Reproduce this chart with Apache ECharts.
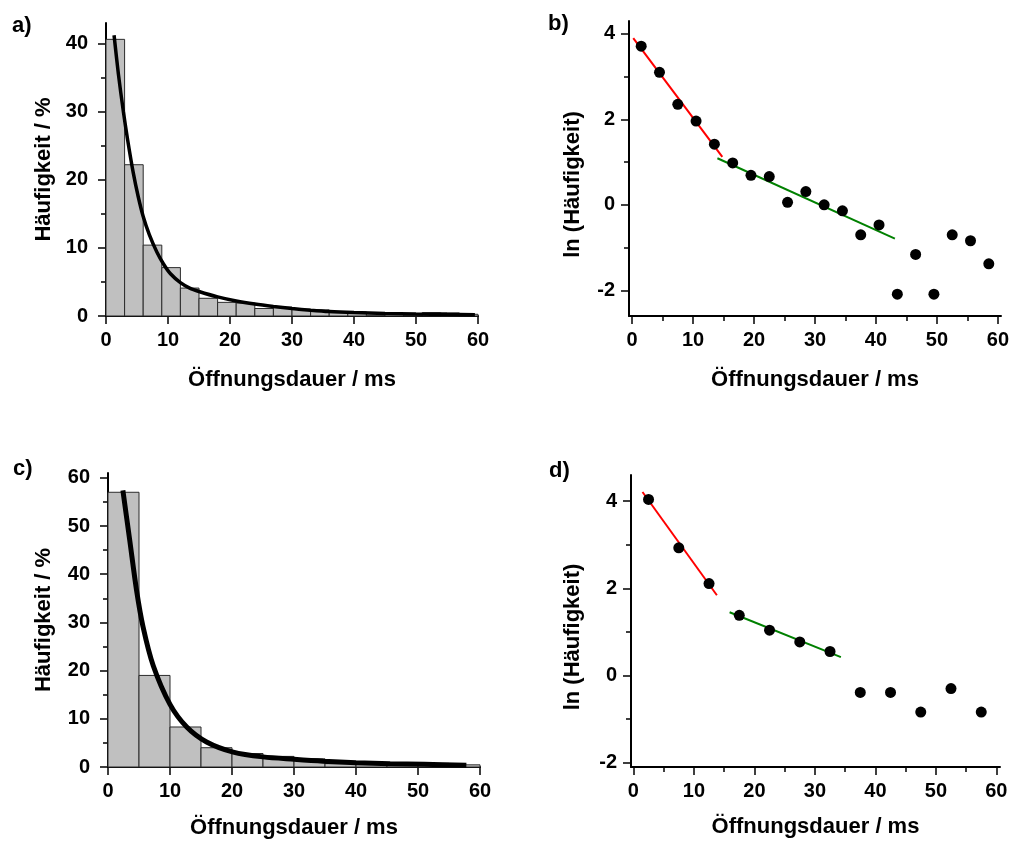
<!DOCTYPE html>
<html>
<head>
<meta charset="utf-8">
<title>Öffnungsdauer-Verteilungen</title>
<script src="https://cdn.jsdelivr.net/npm/echarts@6/dist/echarts.min.js"></script>
<style>
  html, body { margin: 0; padding: 0; background: #ffffff; }
  #chart { width: 1014px; height: 845px; }
</style>
</head>
<body>
<div id="chart"></div>
<script>
// ---- a) Histogramm, 3-ms-Klassen ----
var binCentersA = [1.5, 4.5, 7.5, 10.5, 13.5, 16.5, 19.5, 22.5, 25.5, 28.5,
                   31.5, 34.5, 37.5, 40.5, 43.5, 46.5, 49.5, 52.5, 55.5, 58.5];
var binWidthA = 3;
var countsA = [40.6, 22.2, 10.4, 7.1, 4.1, 2.6, 2.0, 1.9, 1.1, 1.3,
               1.0, 0.9, 0.5, 0.6, 0.12, 0.3, 0.12, 0.5, 0.45, 0.25];
// Anpassungskurve a)
var fitAx = [1.3, 2.0, 2.8, 3.5, 4.4, 5.2, 6.0, 7.0, 8.2, 9.3, 10.4, 12.0, 13.5, 15, 18, 21, 24, 27, 30, 33, 36, 40, 45, 50, 55, 59.5];
var fitAy = [41.2, 35.5, 30.0, 25.8, 21.0, 17.5, 14.6, 11.9, 9.4, 7.6, 6.2, 4.9, 4.1, 3.6, 2.8, 2.2, 1.75, 1.4, 1.1, 0.85, 0.65, 0.5, 0.38, 0.3, 0.24, 0.2];

// ---- b) ln(Häufigkeit) zu a) ----
var lnB = [3.71, 3.10, 2.35, 1.96, 1.42, 0.98, 0.69, 0.66, 0.06, 0.31,
           0.0, -0.14, -0.70, -0.47, -2.09, -1.16, -2.09, -0.70, -0.84, -1.38];
var redLineB = [[0.2, 3.90], [14.8, 1.12]];
var greenLineB = [[14.0, 1.09], [43.1, -0.79]];

// ---- c) Histogramm, 5-ms-Klassen ----
var binCentersC = [2.5, 7.5, 12.5, 17.5, 22.5, 27.5, 32.5, 37.5, 42.5, 47.5, 52.5, 57.5];
var binWidthC = 5;
var countsC = [57.0, 19.0, 8.3, 4.0, 2.8, 2.2, 1.7, 0.7, 0.7, 0.45, 0.75, 0.45];
// Anpassungskurve c)
var fitCx = [2.4, 3.5, 4.6, 5.65, 7.3, 10, 12.7, 15.9, 20.2, 25, 30, 34.7, 40, 45.5, 51, 57.8];
var fitCy = [57.4, 47.1, 36.7, 29.1, 21.0, 13.0, 8.3, 5.2, 3.1, 2.1, 1.6, 1.2, 0.9, 0.7, 0.56, 0.35];

// ---- d) ln(Häufigkeit) zu c) ----
var lnD = [4.04, 2.93, 2.11, 1.38, 1.04, 0.77, 0.55, -0.39, -0.39, -0.84, -0.30, -0.84];
var redLineD = [[1.5, 4.21], [13.8, 1.84]];
var greenLineD = [[15.9, 1.45], [34.3, 0.42]];

// ---- Achsenbeschriftung ----
var xTicksMajor = [0, 10, 20, 30, 40, 50, 60];
var xTicksMinor = [5, 15, 25, 35, 45, 55];
var yTicksA = [0, 10, 20, 30, 40];
var yMinorA = [5, 15, 25, 35];
var yTicksC = [0, 10, 20, 30, 40, 50, 60];
var yMinorC = [5, 15, 25, 35, 45, 55];
var yTicksLn = [-2, 0, 2, 4];
var yMinorLn = [-1, 1, 3];
var xTitle = 'Öffnungsdauer / ms';
var yTitleHist = 'Häufigkeit / %';
var yTitleLn = 'ln (Häufigkeit)';
var panelLabels = ['a)', 'b)', 'c)', 'd)'];

var FONT = "'Liberation Sans', Arial, Helvetica, sans-serif";
var tickFont = { fontFamily: FONT, fontWeight: 'bold', fontSize: 20, color: '#000' };
var titleFont = { fontFamily: FONT, fontWeight: 'bold', fontSize: 22, color: '#000' };

function pairs(xs, ys) {
  return xs.map(function (x, i) { return [x, ys[i]]; });
}
function bins(centers, width, counts) {
  return centers.map(function (c, i) { return [c - width / 2, c + width / 2, counts[i]]; });
}

function renderBar(params, api) {
  var p0 = api.coord([api.value(0), api.value(2)]);
  var p1 = api.coord([api.value(1), 0]);
  return {
    type: 'rect',
    shape: { x: p0[0], y: p0[1], width: p1[0] - p0[0], height: p1[1] - p0[1] },
    style: { fill: '#c0c0c0', stroke: '#2b2b2b', lineWidth: 1 }
  };
}

var grids = [
  { left: 106, top: 23, width: 372, height: 293 },
  { left: 629, top: 21, width: 372, height: 295 },
  { left: 108, top: 473, width: 372, height: 294 },
  { left: 631, top: 475, width: 369, height: 292 }
];

// main axis with labels + overlay axis carrying only the minor ticks
function xAxes(gridIndex, min, max, withMinor, nameGap) {
  var main = {
    type: 'value', gridIndex: gridIndex, min: min, max: max, position: 'bottom',
    name: xTitle, nameLocation: 'middle', nameGap: nameGap, nameTextStyle: titleFont,
    axisLine: { show: true, onZero: false, lineStyle: { color: '#000', width: 2 } },
    axisTick: { show: true, length: 8, customValues: xTicksMajor, lineStyle: { color: '#000', width: 1.5 } },
    axisLabel: Object.assign({ margin: 14, customValues: xTicksMajor }, tickFont),
    splitLine: { show: false }
  };
  var list = [main];
  if (withMinor) {
    list.push({
      type: 'value', gridIndex: gridIndex, min: min, max: max, position: 'bottom',
      axisLine: { show: false, onZero: false },
      axisTick: { show: true, length: 5, customValues: xTicksMinor, lineStyle: { color: '#000', width: 1.5 } },
      axisLabel: { show: false }, splitLine: { show: false }
    });
  }
  return list;
}

function yAxes(gridIndex, min, max, major, minor, title, nameGap, namePad, labelMargin) {
  return [{
    type: 'value', gridIndex: gridIndex, min: min, max: max, position: 'left',
    name: title, nameLocation: 'middle', nameGap: nameGap,
    nameTextStyle: Object.assign({ padding: namePad }, titleFont),
    axisLine: { show: true, onZero: false, lineStyle: { color: '#000', width: 2 } },
    axisTick: { show: true, length: 8, customValues: major, lineStyle: { color: '#000', width: 1.5 } },
    axisLabel: Object.assign({ margin: labelMargin, customValues: major }, tickFont),
    splitLine: { show: false }
  }, {
    type: 'value', gridIndex: gridIndex, min: min, max: max, position: 'left',
    axisLine: { show: false, onZero: false },
    axisTick: { show: true, length: 5, customValues: minor, lineStyle: { color: '#000', width: 1.5 } },
    axisLabel: { show: false }, splitLine: { show: false }
  }];
}

var xAxisList = [].concat(
  xAxes(0, 0, 60, false, 53),        // 0
  xAxes(1, -0.5, 60.5, true, 53),    // 1,2
  xAxes(2, 0, 60, false, 50),        // 3
  xAxes(3, -0.4, 60.6, true, 49)     // 4,5
);
var yAxisList = [].concat(
  yAxes(0, 0, 43, yTicksA, yMinorA, yTitleHist, 51, [0, 0, 0, 0], 18),          // 0,1
  yAxes(1, -2.6, 4.3, yTicksLn, yMinorLn, yTitleLn, 45, [0, 32, 0, 0], 14),     // 2,3
  yAxes(2, 0, 61, yTicksC, yMinorC, yTitleHist, 53, [0, 0, 0, 0], 18),          // 4,5
  yAxes(3, -2.1, 4.6, yTicksLn, yMinorLn, yTitleLn, 47, [0, 32, 0, 0], 14)      // 6,7
);

var series = [
  // a)
  { type: 'custom', xAxisIndex: 0, yAxisIndex: 0, renderItem: renderBar,
    data: bins(binCentersA, binWidthA, countsA), encode: { x: [0, 1], y: 2 }, z: 2 },
  { type: 'line', xAxisIndex: 0, yAxisIndex: 0, data: pairs(fitAx, fitAy),
    smooth: 0.3, showSymbol: false, symbol: 'none',
    lineStyle: { color: '#000', width: 3.5 }, z: 3 },
  // b)
  { type: 'line', xAxisIndex: 1, yAxisIndex: 2, data: redLineB, symbol: 'none',
    lineStyle: { color: '#ff0000', width: 2 }, z: 3 },
  { type: 'line', xAxisIndex: 1, yAxisIndex: 2, data: greenLineB, symbol: 'none',
    lineStyle: { color: '#008000', width: 2 }, z: 3 },
  { type: 'scatter', xAxisIndex: 1, yAxisIndex: 2, data: pairs(binCentersA, lnB),
    symbolSize: 11, itemStyle: { color: '#000', opacity: 1 }, z: 4 },
  // c)
  { type: 'custom', xAxisIndex: 3, yAxisIndex: 4, renderItem: renderBar,
    data: bins(binCentersC, binWidthC, countsC), encode: { x: [0, 1], y: 2 }, z: 2 },
  { type: 'line', xAxisIndex: 3, yAxisIndex: 4, data: pairs(fitCx, fitCy),
    smooth: 0.3, showSymbol: false, symbol: 'none',
    lineStyle: { color: '#000', width: 5 }, z: 3 },
  // d)
  { type: 'line', xAxisIndex: 4, yAxisIndex: 6, data: redLineD, symbol: 'none',
    lineStyle: { color: '#ff0000', width: 2 }, z: 3 },
  { type: 'line', xAxisIndex: 4, yAxisIndex: 6, data: greenLineD, symbol: 'none',
    lineStyle: { color: '#008000', width: 2 }, z: 3 },
  { type: 'scatter', xAxisIndex: 4, yAxisIndex: 6, data: pairs(binCentersC, lnD),
    symbolSize: 11, itemStyle: { color: '#000', opacity: 1 }, z: 4 }
];

var labelPos = [[12, 15], [548, 13], [13, 458], [549, 460]];
var graphics = panelLabels.map(function (t, i) {
  return { type: 'text', left: labelPos[i][0], top: labelPos[i][1],
           style: { text: t, font: 'bold 22px ' + FONT, fill: '#000' } };
});

var chart = echarts.init(document.getElementById('chart'), null, { renderer: 'canvas' });
chart.setOption({
  animation: false,
  backgroundColor: '#ffffff',
  grid: grids,
  xAxis: xAxisList,
  yAxis: yAxisList,
  series: series,
  graphic: graphics
});
</script>
</body>
</html>
